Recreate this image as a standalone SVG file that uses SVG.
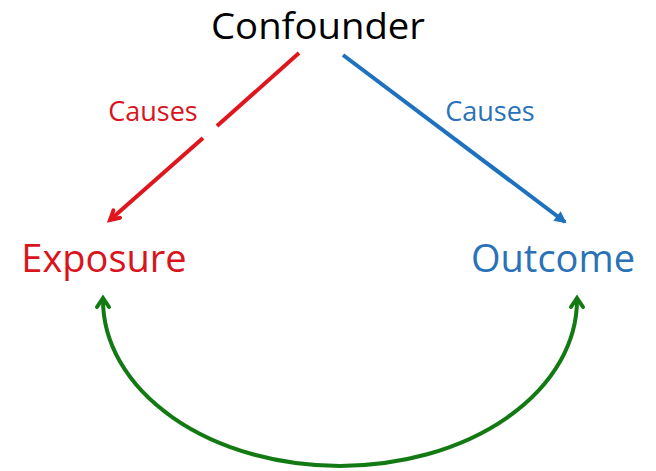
<svg xmlns="http://www.w3.org/2000/svg" width="656" height="471" viewBox="0 0 656 471">
<style>
text{font-family:"Open Sans","Noto Sans",sans-serif}
.big{font-size:38px}
.lbl{font-size:27px}
.red{fill:#d9141c}
.blue{fill:#2a72b8}
.line{fill:none;stroke-width:4;stroke-linecap:butt}
</style>
<defs>
<marker id="hr" viewBox="0 0 12 12" refX="10" refY="6" markerWidth="12" markerHeight="12" markerUnits="userSpaceOnUse" orient="auto" overflow="visible">
<polyline points="1,1 10,6 1,11" fill="none" stroke="#e0161e" stroke-width="4" stroke-linecap="round" stroke-linejoin="miter"/>
</marker>
<marker id="hb" viewBox="0 0 12 12" refX="10" refY="6" markerWidth="12" markerHeight="12" markerUnits="userSpaceOnUse" orient="auto" overflow="visible">
<polygon points="0,0 12,6 0,12" fill="#1e72bd"/>
</marker>
<marker id="hg" viewBox="0 0 12 12" refX="10" refY="6" markerWidth="12" markerHeight="12" markerUnits="userSpaceOnUse" orient="auto-start-reverse" overflow="visible">
<polyline points="1,0 10,6 1,12" fill="none" stroke="#137a13" stroke-width="4" stroke-linecap="round"/>
</marker>
</defs>
<g id="connectors">
<line class="line" x1="299" y1="53" x2="217" y2="126" stroke="#e0161e"/>
<line class="line" x1="203" y1="138" x2="110" y2="220" stroke="#e0161e" marker-end="url(#hr)"/>
<line class="line" x1="343" y1="55" x2="565" y2="222" stroke="#1e72bd" marker-end="url(#hb)"/>
<path class="line" d="M103,298 L103,300 A237,166 0 0 0 577,300 L577,298" stroke="#137a13" marker-start="url(#hg)" marker-end="url(#hg)"/>
</g>
<g id="confounder"><text x="318" y="39" text-anchor="middle" fill="#000" font-size="36" textLength="214" lengthAdjust="spacingAndGlyphs">Confounder</text></g>
<g id="exposure"><text class="big red" x="104" y="272" text-anchor="middle">Exposure</text></g>
<g id="outcome"><text class="big blue" x="553" y="272" text-anchor="middle">Outcome</text></g>
<g id="label-red"><text class="lbl red" x="153" y="121" text-anchor="middle">Causes</text></g>
<g id="label-blue"><text class="lbl blue" x="490" y="121" text-anchor="middle">Causes</text></g>
</svg>
